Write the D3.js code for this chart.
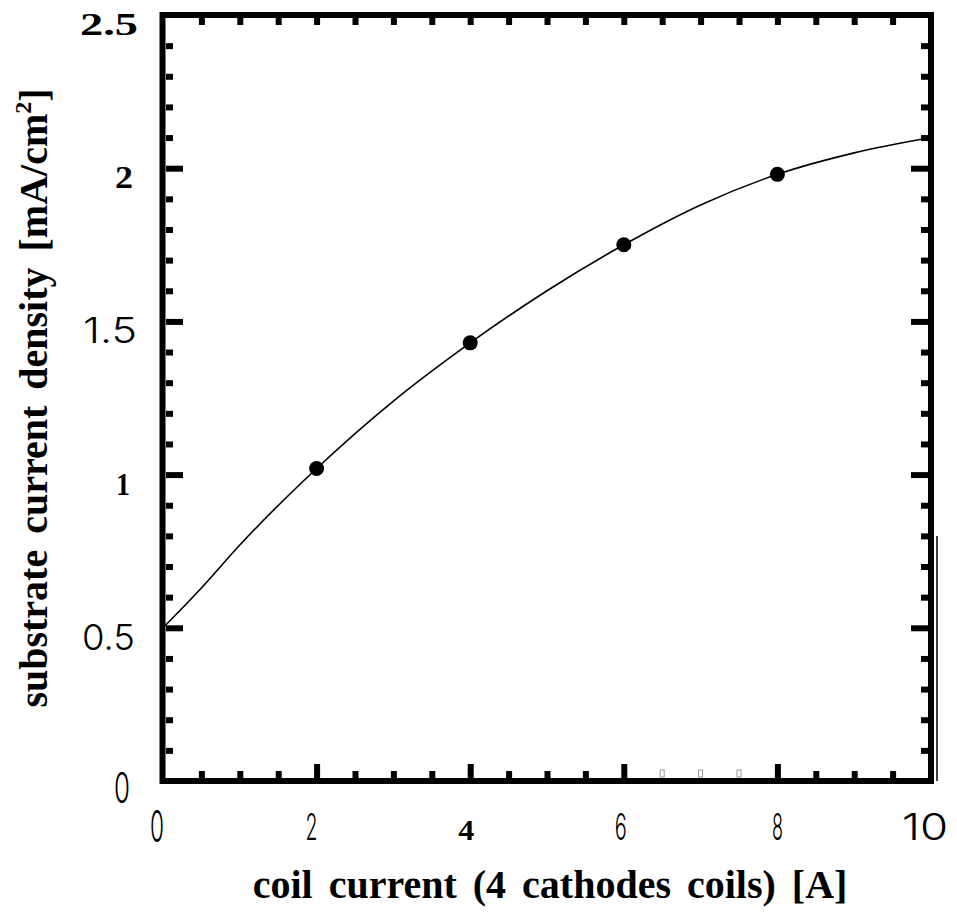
<!DOCTYPE html>
<meta charset="utf-8">
<style>
    body {
        margin: 0;
        background: white;
    }

    .serif {
        font-family: "Liberation Serif", "DejaVu Serif", serif;
        font-weight: 700;
    }

    .light {
        font-family: Inter, "DejaVu Sans", sans-serif;
        font-weight: 300;
    }

    .tick line {
        stroke: black;
    }
</style>

<body>
    <svg id="chart" width="957" height="915"></svg>

    <script src="https://cdnjs.cloudflare.com/ajax/libs/d3/7.8.5/d3.min.js"></script>

    <script>
        // measured points
        var coilCurrent = [2, 4, 6, 8];
        var currentDensity = [1.02, 1.43, 1.75, 1.98];

        // fitted curve
        var fitX = [0, 0.5, 1, 2, 3, 4, 5, 6, 7, 8, 9, 10];
        var fitY = [0.50, 0.63, 0.77, 1.02, 1.24, 1.43, 1.60, 1.75, 1.88, 1.98, 2.05, 2.10];

        var xTickLabels = ["0", "2", "4", "6", "8", "10"];
        var yTickLabels = ["0", "0.5", "1", "1.5", "2", "2.5"];

        var xTitle = "coil current (4 cathodes coils) [A]";
        var yTitle = "substrate current density [mA/cm";

        var renderChart = function () {
            var svg = d3.select("#chart");

            var x = d3.scaleLinear().domain([0, 10]).range([163, 931]);
            var y = d3.scaleLinear().domain([0, 2.5]).range([781, 15]);

            var xMajor = xTickLabels.map(Number).filter(function (d) { return d > 0 && d < 10; });
            var xMinor = d3.range(0.5, 10, 0.5).filter(function (d) { return d % 2 !== 0; });
            var yMajor = yTickLabels.map(Number).filter(function (d) { return d > 0 && d < 2.5; });
            var yMinor = d3.range(1, 25).map(function (d) { return d / 10; })
                .filter(function (d) { return Math.round(d * 10) % 5 !== 0; });
            // faint ticks on the bottom edge of the scan
            var faint = [6.5, 7, 7.5];

            var g = svg.append("g");

            function tickAxis(axis, at, vals, len) {
                var a = g.append("g")
                    .attr("transform", at)
                    .call(axis.tickValues(vals).tickSize(-len).tickFormat(""));
                a.select(".domain").remove();
                a.selectAll(".tick line").attr("stroke-width", 6);
                return a;
            }

            // ticks point inwards on all four sides
            tickAxis(d3.axisLeft(y), "translate(166,0)", yMinor, 7);
            tickAxis(d3.axisLeft(y), "translate(166,0)", yMajor, 17);
            tickAxis(d3.axisRight(y), "translate(928,0)", yMinor, 7);
            tickAxis(d3.axisRight(y), "translate(928,0)", yMajor, 17);
            tickAxis(d3.axisBottom(x), "translate(0,778)", xMinor.filter(function (d) { return faint.indexOf(d) < 0; }), 7);
            tickAxis(d3.axisBottom(x), "translate(0,778)", xMajor, 14);
            tickAxis(d3.axisTop(x), "translate(0,18)", xMinor, 7);
            tickAxis(d3.axisTop(x), "translate(0,18)", xMajor, 7);

            g.selectAll(".faint")
                .data(faint)
                .enter().append("rect")
                .attr("x", function (d) { return x(d) - 2; })
                .attr("y", 770)
                .attr("width", 4)
                .attr("height", 7)
                .attr("fill", "white")
                .attr("stroke", "#999")
                .attr("stroke-width", 1);

            // frame
            g.append("rect")
                .attr("x", x(0) - 0.5)
                .attr("y", y(2.5))
                .attr("width", x(10) - x(0) + 0.5)
                .attr("height", y(0) - y(2.5))
                .attr("fill", "none")
                .attr("stroke", "black")
                .attr("stroke-width", 6);

            // thin doubled line on the right edge (scan artefact)
            g.append("line")
                .attr("x1", 937).attr("x2", 937)
                .attr("y1", y(0.8)).attr("y2", y(0))
                .attr("stroke", "black").attr("stroke-width", 1.5);

            // fitted curve
            var fit = fitX.map(function (d, i) { return [d, fitY[i]]; });
            g.append("path")
                .datum(fit)
                .attr("fill", "none")
                .attr("stroke", "black")
                .attr("stroke-width", 1.6)
                .attr("d", d3.line()
                    .x(function (d) { return x(d[0]); })
                    .y(function (d) { return y(d[1]); })
                    .curve(d3.curveMonotoneX));

            g.selectAll("circle")
                .data(coilCurrent)
                .enter().append("circle")
                .attr("cx", function (d) { return x(d); })
                .attr("cy", function (d, i) { return y(currentDensity[i]); })
                .attr("r", 7.5)
                .attr("fill", "black");

            // tick labels, mixed fonts like the original scan
            var boldLabels = { "2.5": 1, "2": 1, "1": 1 };
            var yLabelSize = { "0": 42, "0.5": 36, "1": 31, "1.5": 36, "2": 31, "2.5": 31 };
            var yLabelWidth = { "0": 16, "0.5": 53, "1": 14, "1.5": 54, "2": 18, "2.5": 58 };
            var yLabelRight = { "0": 130, "0.5": 135, "1": 130, "1.5": 137, "2": 133, "2.5": 138 };

            g.selectAll(".ylab")
                .data(yTickLabels)
                .enter().append("text")
                .attr("class", function (d) { return boldLabels[d] ? "serif" : "light"; })
                .attr("x", function (d) { return yLabelRight[d]; })
                .attr("y", function (d) { return y(+d) + (boldLabels[d] ? 20 : 22); })
                .attr("text-anchor", "end")
                .attr("font-size", function (d) { return yLabelSize[d]; })
                .attr("textLength", function (d) { return yLabelWidth[d]; })
                .attr("lengthAdjust", "spacingAndGlyphs")
                .text(function (d) { return d; });

            var xBold = { "4": 1 };
            var xLabelSize = { "0": 44, "2": 37, "4": 30, "6": 37, "8": 37, "10": 37 };
            var xLabelWidth = { "0": 14, "2": 12, "4": 16, "6": 12, "8": 11, "10": 46 };
            var xLabelShift = { "0": -6, "2": -5, "4": -4, "6": -3, "8": 0, "10": -6 };

            g.selectAll(".xlab")
                .data(xTickLabels)
                .enter().append("text")
                .attr("class", function (d) { return xBold[d] ? "serif" : "light"; })
                .attr("x", function (d) { return x(+d) + xLabelShift[d]; })
                .attr("y", function (d) { return d === "0" ? 842 : 840; })
                .attr("text-anchor", "middle")
                .attr("font-size", function (d) { return xLabelSize[d]; })
                .attr("textLength", function (d) { return xLabelWidth[d]; })
                .attr("lengthAdjust", "spacingAndGlyphs")
                .text(function (d) { return d; });

            // axis titles
            g.append("text")
                .attr("class", "serif")
                .attr("x", 550)
                .attr("y", 898)
                .attr("text-anchor", "middle")
                .attr("font-size", 40)
                .style("word-spacing", "6px")
                .text(xTitle);

            var yt = g.append("text")
                .attr("class", "serif")
                .attr("transform", "translate(47,398) rotate(-90)")
                .attr("text-anchor", "middle")
                .attr("font-size", 40)
                .style("word-spacing", "6px");
            yt.append("tspan").text(yTitle);
            yt.append("tspan").attr("font-size", 24).attr("dy", -16).text("2");
            yt.append("tspan").attr("dy", 16).text("]");
        }
        renderChart();
    </script>
</body>
